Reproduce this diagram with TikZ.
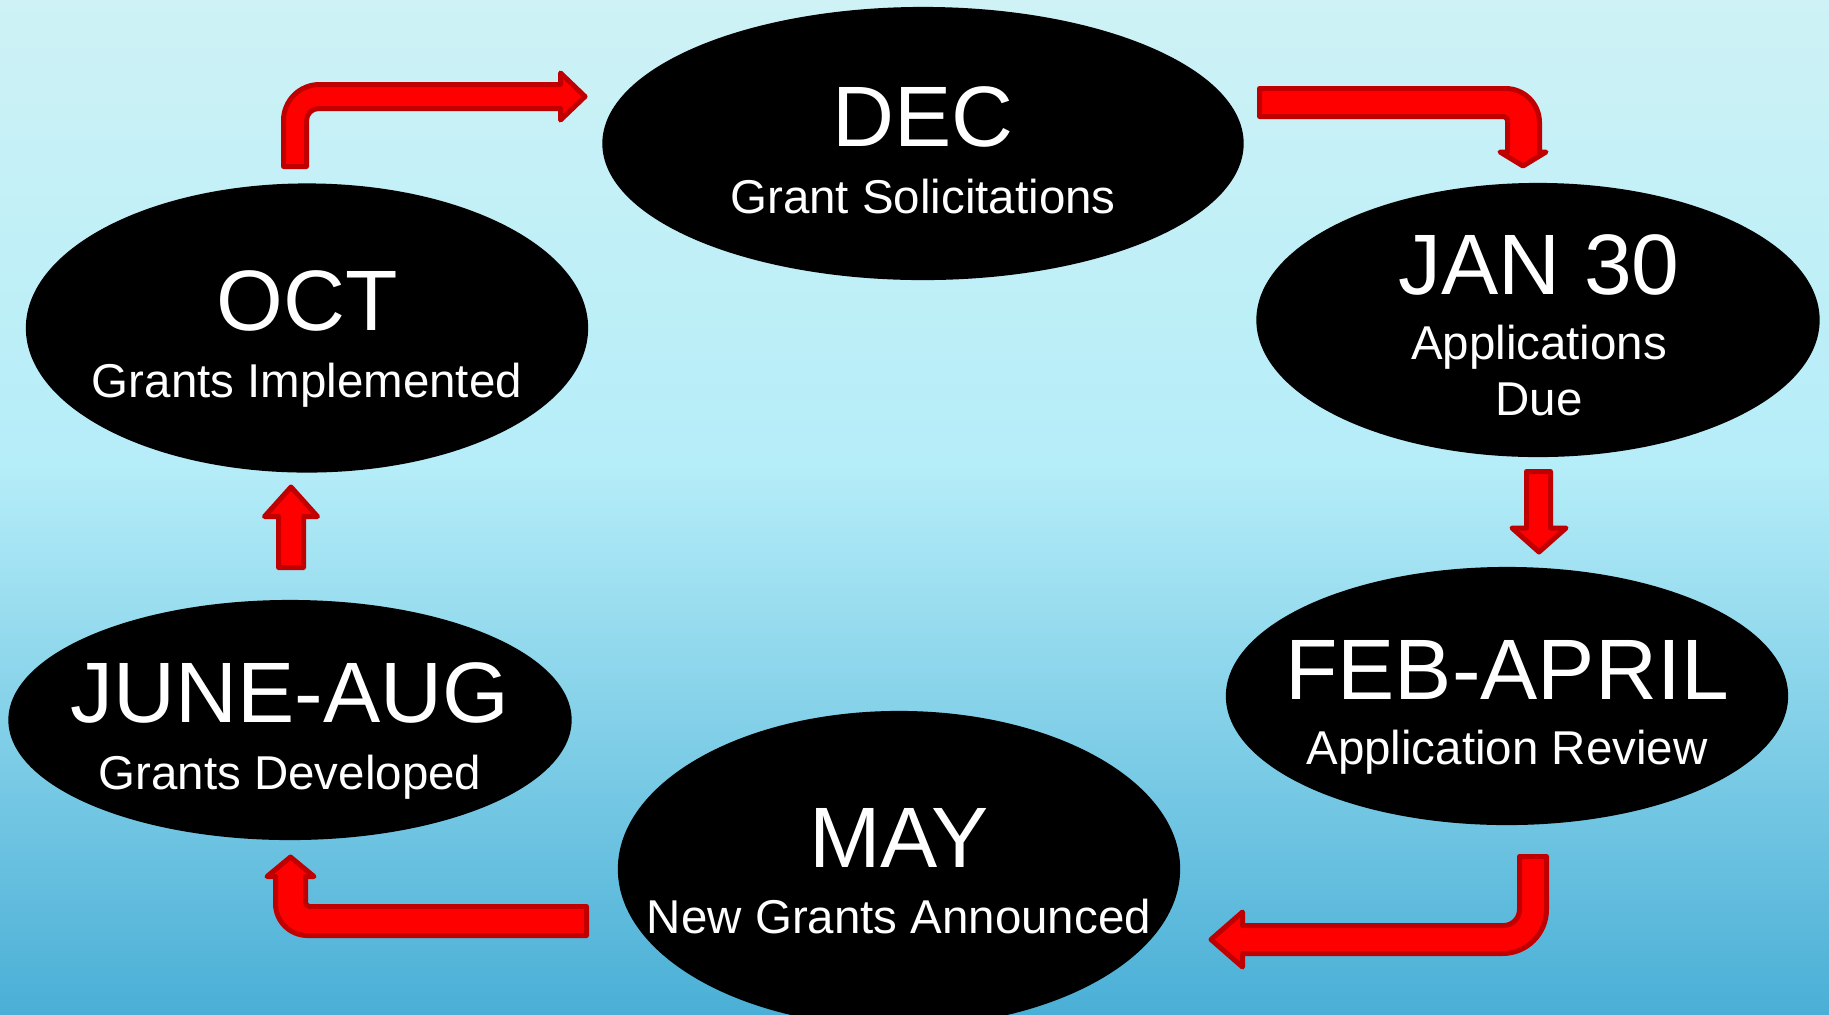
\documentclass[tikz,border=0pt]{standalone}
\usepackage{fontspec}
\setmainfont{Liberation Sans}
\usetikzlibrary{shapes.geometric}
\definecolor{bgtop}{HTML}{CEF2F6}
\definecolor{bgmid}{HTML}{B5EDF8}
\definecolor{bgbot}{HTML}{4AAFD6}
\definecolor{arrowdark}{HTML}{C00000}
\pgfdeclareverticalshading{bgshade}{100bp}{color(0bp)=(bgbot); color(25bp)=(bgbot); color(52bp)=(bgmid); color(75bp)=(bgtop); color(100bp)=(bgtop)}
\tikzset{
  oval/.style={ellipse, fill=black, inner sep=0pt},
  ttl/.style={text=white, anchor=base, inner sep=0pt, font=\fontsize{24.4pt}{28pt}\selectfont},
  sub/.style={text=white, anchor=base, inner sep=0pt, font=\fontsize{13.5pt}{16pt}\selectfont},
  barrow/.style={fill=red, draw=arrowdark, line width=0.05cm, line join=round}
}
\begin{document}
\begin{tikzpicture}[x=0.01cm, y=-0.01cm]
\useasboundingbox (0,0) rectangle (1829,1014);
\fill[shading=bgshade] (0,0) rectangle (1829,1014);

% ellipses
\node[oval, minimum width=6.41cm, minimum height=2.73cm] (dec) at (923,143.5) {};
\node[oval, minimum width=5.62cm, minimum height=2.89cm] (oct) at (307,328) {};
\node[oval, minimum width=5.63cm, minimum height=2.74cm] (jan) at (1538,320) {};
\node[oval, minimum width=5.62cm, minimum height=2.58cm] (feb) at (1507,696) {};
\node[oval, minimum width=5.62cm, minimum height=3.16cm] (may) at (899,869) {};
\node[oval, minimum width=5.63cm, minimum height=2.40cm] (jun) at (290,720) {};

% texts
\node[ttl] (dect) at (923,146) {DEC};
\node[sub] (decs) at (923,213) {Grant Solicitations};
\node[ttl] (octt) at (307,330) {OCT};
\node[sub] (octs) at (307,397) {Grants Implemented};
\node[ttl] (jant) at (1539,294) {JAN 30};
\node[sub] (jans) at (1539,359) {Applications};
\node[sub] (jans2) at (1539,415) {Due};
\node[ttl] (febt) at (1507,699) {FEB-APRIL};
\node[sub] (febs) at (1507,764) {Application Review};
\node[ttl] (mayt) at (899,867) {MAY};
\node[sub] (mays) at (899,933) {New Grants Announced};
\node[ttl] (junt) at (290,722) {JUNE-AUG};
\node[sub] (juns) at (290,789) {Grants Developed};

% arrows
% OCT -> DEC
\draw[barrow] (283.5,166.5) -- (283.5,120.5) arc[start angle=180, end angle=270, radius=36]
  -- (560.5,84.5) -- (560.5,73) -- (585,96.5) -- (560.5,120) -- (560.5,108.5)
  -- (318.5,108.5) arc[start angle=270, end angle=180, radius=12] -- (306.5,166.5) -- cycle;
% DEC -> JAN
\draw[barrow] (1259.5,88.5) -- (1505.5,88.5) arc[start angle=270, end angle=360, radius=34]
  -- (1539.5,152) -- (1546,152) -- (1523,166) -- (1500,152) -- (1507.5,152)
  -- (1507.5,120.5) arc[start angle=0, end angle=-90, radius=4] -- (1259.5,116.5) -- cycle;
% JAN -> FEB
\draw[barrow] (1526.5,471.5) -- (1550.5,471.5) -- (1550.5,528) -- (1566,528) -- (1539,552)
  -- (1512,528) -- (1526.5,528) -- cycle;
% FEB -> MAY
\draw[barrow] (1519.5,856.5) -- (1546.5,856.5) -- (1546.5,909.5) arc[start angle=0, end angle=90, radius=44]
  -- (1242.5,953.5) -- (1242.5,967) -- (1211,939.5) -- (1242.5,912) -- (1242.5,925.5)
  -- (1503.5,925.5) arc[start angle=90, end angle=0, radius=16] -- cycle;
% MAY -> JUNE
\draw[barrow] (586.5,906.5) -- (586.5,935.5) -- (307.5,935.5) arc[start angle=90, end angle=180, radius=32]
  -- (275.5,876.5) -- (267,876.5) -- (290.5,857) -- (314,876.5) -- (305.5,876.5)
  -- (305.5,902.5) arc[start angle=180, end angle=90, radius=4] -- cycle;
% JUNE -> OCT
\draw[barrow] (278.5,567.5) -- (278.5,516.5) -- (264.5,516.5) -- (291,487) -- (317.5,516.5)
  -- (303.5,516.5) -- (303.5,567.5) -- cycle;
\end{tikzpicture}
\end{document}
